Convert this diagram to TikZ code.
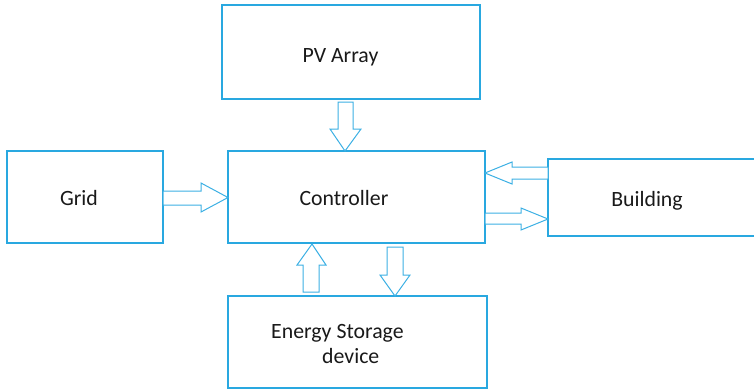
\documentclass[tikz,border=0pt]{standalone}
\usepackage{fontspec}
\setmainfont{Carlito}
\definecolor{boxblue}{RGB}{41,168,224}
\definecolor{arrowblue}{RGB}{60,176,228}
\definecolor{txt}{RGB}{25,25,25}
\begin{document}
\begin{tikzpicture}[x=1pt,y=-1pt,
  blockbox/.style={draw=boxblue,line width=1.8pt,fill=none},
  blockarrow/.style={draw=arrowblue,line width=1pt,fill=white,line join=miter},
  lbl/.style={font=\fontsize{21.8}{26}\selectfont,text=txt,inner sep=0pt,anchor=base}]
\useasboundingbox (0,0) rectangle (754,389);
\clip (0,0) rectangle (754,389);
% boxes
\path[blockbox] (222,5) rectangle (480,99);
\path[blockbox] (7,151) rectangle (163,243);
\path[blockbox] (228,151) rectangle (485,243);
\path[blockbox] (548,159) rectangle (770,236);
\path[blockbox] (228,296) rectangle (487,388);
% labels
\node[lbl] (pvt) at (340.5,62) {PV Array};
\node[lbl] (gridt) at (79,205) {Grid};
\node[lbl] (ctrlt) at (344,205) {Controller};
\node[lbl] (bldt) at (647,206) {Building};
\node[lbl,anchor=base west] (est1) at (271,338) {Energy Storage};
\node[lbl,anchor=base west] (est2) at (322,363) {device};
% block arrows
\draw[blockarrow] (338,102) -- (353,102) -- (353,129) -- (361,129) -- (345,151) -- (330,129) -- (338,129) -- cycle;
\draw[blockarrow] (163,191) -- (201,191) -- (201,183) -- (228,197.5) -- (201,212) -- (201,205) -- (163,205) -- cycle;
\draw[blockarrow] (548,167) -- (512,167) -- (512,162) -- (485,173) -- (512,184) -- (512,179) -- (548,179) -- cycle;
\draw[blockarrow] (485,213) -- (521,213) -- (521,208) -- (548,219) -- (521,230) -- (521,224) -- (485,224) -- cycle;
\draw[blockarrow] (303,292) -- (303,265) -- (297,265) -- (312,244) -- (326,265) -- (319,265) -- (319,292) -- cycle;
\draw[blockarrow] (387,247) -- (403,247) -- (403,275) -- (410,275) -- (395,296) -- (380,275) -- (387,275) -- cycle;
\end{tikzpicture}
\end{document}
